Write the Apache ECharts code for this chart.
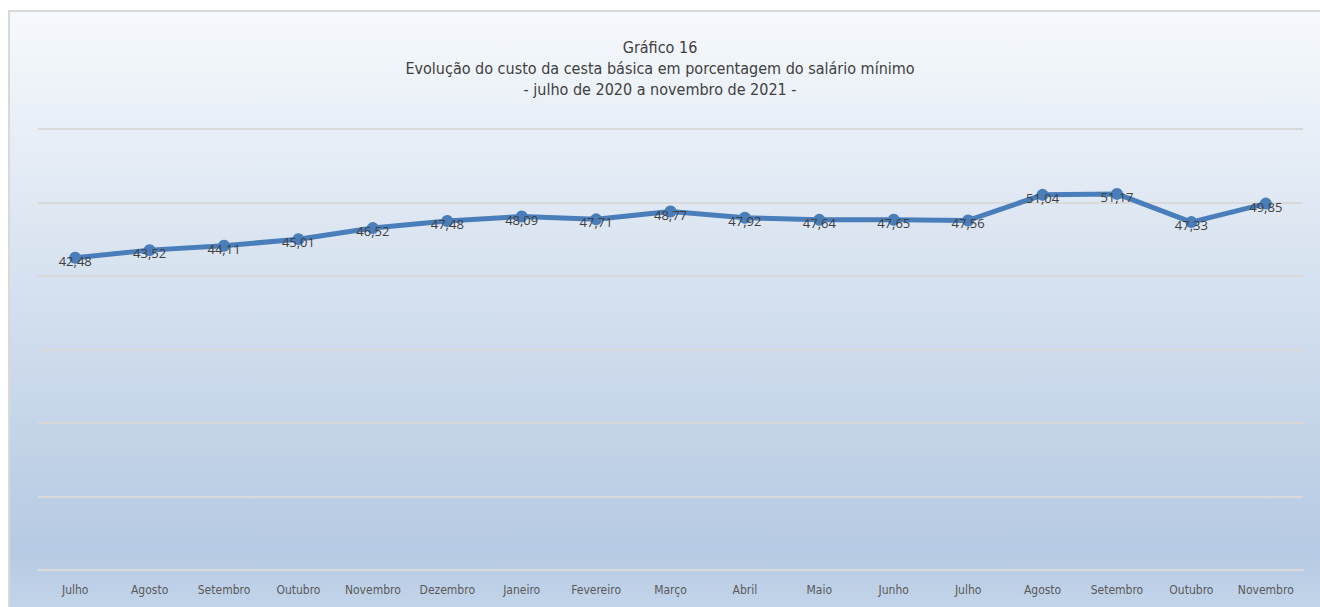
<!DOCTYPE html>
<html>
<head>
<meta charset="utf-8">
<script src="https://cdn.jsdelivr.net/npm/echarts@6/dist/echarts.min.js"></script>
<style>
  html, body { margin: 0; padding: 0; background: #ffffff; }
  #chart { width: 1320px; height: 607px; }
</style>
</head>
<body>
<div id="chart"></div>
<script>
var months = ['Julho', 'Agosto', 'Setembro', 'Outubro', 'Novembro', 'Dezembro', 'Janeiro', 'Fevereiro', 'Março',
  'Abril', 'Maio', 'Junho', 'Julho', 'Agosto', 'Setembro', 'Outubro', 'Novembro'];
var percent = [42.48, 43.52, 44.11, 45.01, 46.52, 47.48, 48.09, 47.71, 48.77, 47.92, 47.64, 47.65, 47.56, 51.04, 51.17, 47.33, 49.85];
var titleLines = ['Gráfico 16', 'Evolução do custo da cesta básica em porcentagem do salário mínimo', '- julho de 2020 a novembro de 2021 -'];

(function() {
  var narrow = '"Liberation Sans Narrow", "Arial Narrow", "DejaVu Sans Condensed", sans-serif';
  var chart = echarts.init(document.getElementById('chart'), null, { renderer: 'svg' });
  chart.setOption({
    animation: false,
    graphic: [{
      type: 'rect',
      z: -10,
      silent: true,
      shape: { x: 9, y: 11, width: 1320, height: 600 },
      style: {
        fill: new echarts.graphic.LinearGradient(0, 0, 0, 1, [
          { offset: 0, color: '#f6f9fc' },
          { offset: 0.9, color: '#b6cae3' },
          { offset: 1, color: '#c3d5ea' }
        ]),
        stroke: '#d9d9d9',
        lineWidth: 2
      }
    }],
    title: {
      text: titleLines.join('\n'),
      left: 'center',
      top: 32,
      textStyle: { color: '#404040', fontSize: 16, fontWeight: 'normal', fontFamily: narrow, lineHeight: 21 }
    },
    grid: { left: 38, right: 17, top: 129, bottom: 37, containLabel: false },
    xAxis: {
      type: 'category',
      data: months,
      boundaryGap: true,
      axisLine: { lineStyle: { color: '#d9d9d9', width: 2 } },
      axisTick: { show: false },
      axisLabel: { color: '#595959', fontSize: 12, fontFamily: narrow, margin: 14, interval: 0 }
    },
    yAxis: {
      type: 'value',
      min: 0,
      max: 60,
      interval: 10,
      axisLine: { show: false },
      axisTick: { show: false },
      axisLabel: { show: false },
      splitLine: { lineStyle: { color: '#d9d9d9', width: 2 } }
    },
    series: [{
      type: 'line',
      data: percent,
      symbol: 'circle',
      symbolSize: 12,
      lineStyle: { color: '#4a7ebb', width: 5 },
      itemStyle: { color: '#4a7ebb' },
      label: {
        show: true,
        position: 'inside',
        offset: [0, 3],
        color: '#404040',
        fontSize: 13,
        fontFamily: '"Open Sans", "Liberation Sans", sans-serif',
        formatter: function(p) { return p.value.toFixed(2).replace('.', ','); }
      }
    }]
  });
  window.addEventListener('resize', function() { chart.resize(); });
})();
</script>
</body>
</html>
